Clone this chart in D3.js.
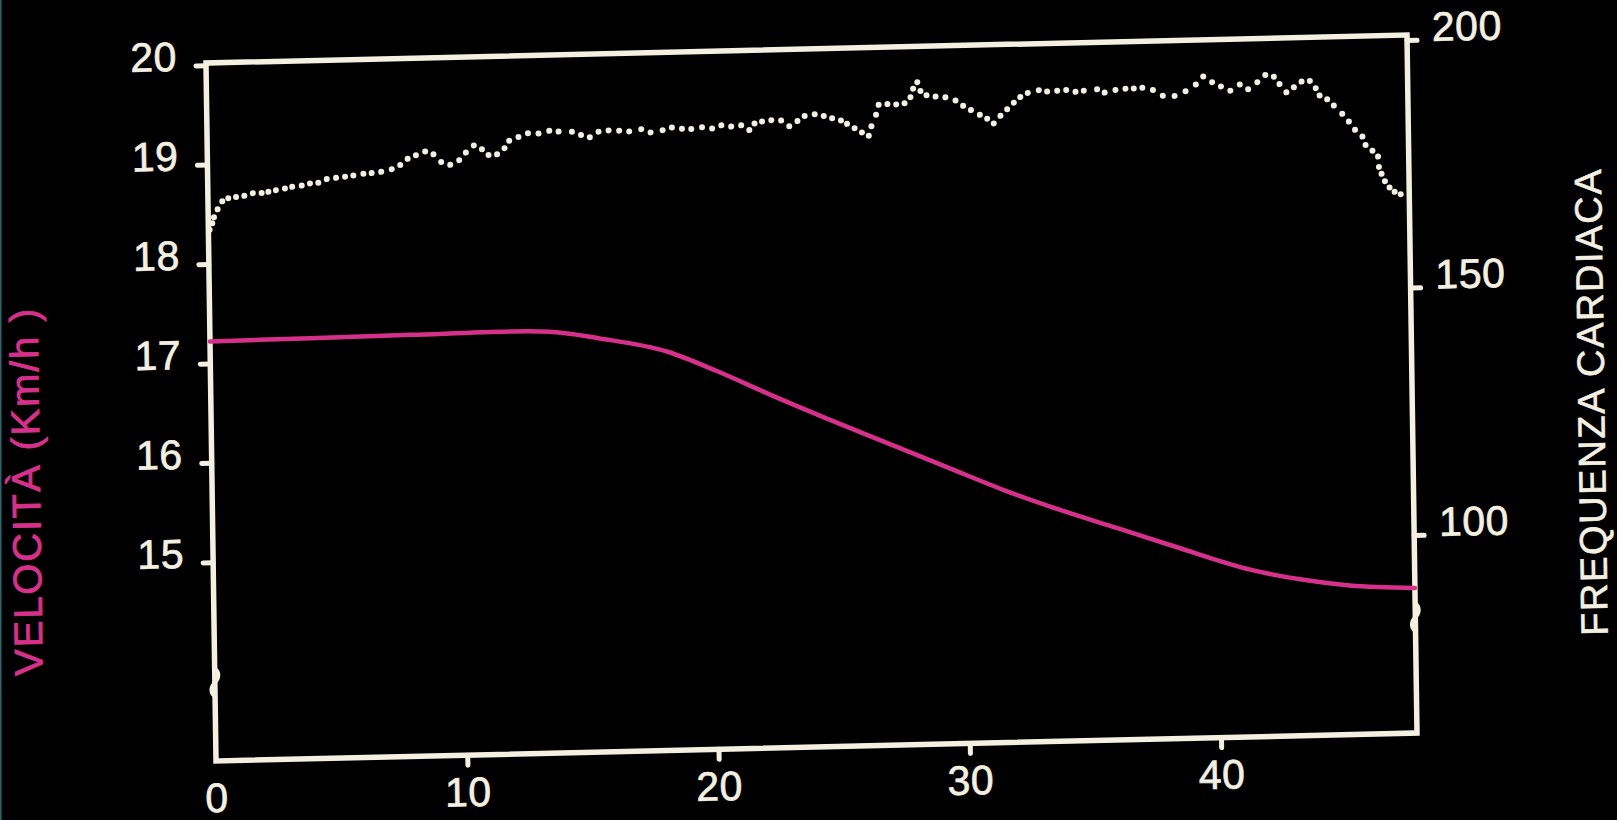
<!DOCTYPE html>
<html>
<head>
<meta charset="utf-8">
<script src="https://cdn.jsdelivr.net/npm/d3@7"></script>
<style>
  html, body { margin: 0; padding: 0; background: #000; }
  svg { display: block; }
</style>
</head>
<body>
<svg id="chart" width="1617" height="820"></svg>
<script>
// Axis tick values
const minuteTicks = [0, 10, 20, 30, 40];
const speedTicks = [15, 16, 17, 18, 19, 20];
const heartTicks = [100, 150, 200];

// Running speed over time: [minute, km/h]
const speed = [
  [0, 17.22], [4, 17.23], [8, 17.24], [12, 17.25], [13.5, 17.24],
  [15.5, 17.16], [18.2, 17.01], [20.1, 16.81], [22.3, 16.55], [24.6, 16.29],
  [26.9, 16.04], [29.2, 15.79], [31.5, 15.54], [33.7, 15.33], [36.0, 15.13],
  [38.3, 14.93], [41.3, 14.68], [43.3, 14.57], [45.2, 14.50], [47.8, 14.46]
];

// Heart rate samples: [minute, beats per minute]
const heartRate = [
  [0.05, 167.3], [0.16, 168.6], [0.23, 169.8], [0.38, 171.4], [0.57, 173.0], [0.81, 173.6],
  [1.12, 173.8], [1.45, 174.0], [1.79, 174.5], [2.14, 174.5], [2.41, 174.7], [2.71, 175.0],
  [3.07, 175.3], [3.36, 175.6], [3.74, 175.8], [4.07, 176.2], [4.40, 176.3], [4.74, 177.0],
  [5.11, 177.2], [5.47, 177.4], [5.80, 177.6], [6.20, 177.9], [6.53, 178.0], [6.91, 178.2],
  [7.33, 178.7], [7.67, 179.5], [7.97, 180.7], [8.30, 181.4], [8.67, 182.1], [9.00, 181.5],
  [9.30, 179.9], [9.66, 179.3], [10.02, 180.2], [10.29, 181.7], [10.61, 183.1], [10.93, 182.3],
  [11.19, 181.1], [11.53, 181.2], [11.83, 182.4], [12.02, 183.9], [12.39, 184.6], [12.77, 185.3],
  [13.19, 185.2], [13.62, 185.7], [13.99, 185.5], [14.52, 185.4], [14.88, 184.7], [15.23, 184.2],
  [15.58, 185.3], [15.98, 185.5], [16.40, 185.4], [16.80, 185.2], [17.28, 185.6], [17.65, 184.9],
  [18.13, 185.3], [18.50, 185.8], [18.90, 185.5], [19.27, 185.4], [19.70, 185.7], [20.10, 185.4],
  [20.47, 186.0], [20.86, 185.7], [21.26, 185.9], [21.58, 184.9], [21.79, 186.2], [22.09, 186.6],
  [22.46, 186.8], [22.85, 186.7], [23.17, 185.5], [23.50, 186.5], [23.79, 187.5], [24.19, 187.8],
  [24.55, 187.4], [24.88, 186.9], [25.23, 186.4], [25.47, 185.7], [25.77, 184.8], [26.06, 183.9],
  [26.33, 183.2], [26.44, 185.1], [26.63, 187.4], [26.74, 189.4], [27.09, 189.5], [27.44, 189.4],
  [27.77, 189.6], [28.01, 190.8], [28.12, 192.5], [28.29, 193.8], [28.41, 192.0], [28.65, 191.1],
  [29.01, 190.8], [29.40, 190.6], [29.80, 189.9], [30.10, 188.8], [30.41, 187.9], [30.76, 186.9],
  [31.05, 186.1], [31.31, 185.1], [31.58, 186.6], [31.85, 187.9], [32.12, 189.2], [32.38, 190.3],
  [32.68, 191.1], [33.12, 191.6], [33.45, 191.3], [33.85, 191.4], [34.21, 191.5], [34.58, 191.1],
  [34.91, 191.3], [35.44, 191.5], [35.74, 190.8], [36.17, 191.3], [36.57, 191.5], [36.90, 191.5],
  [37.24, 191.6], [37.66, 191.1], [38.05, 189.9], [38.52, 189.8], [38.96, 190.7], [39.37, 192.0],
  [39.67, 193.6], [40.02, 192.4], [40.37, 191.5], [40.74, 190.6], [41.12, 191.8], [41.45, 190.8],
  [41.82, 192.2], [42.14, 193.6], [42.48, 193.2], [42.70, 191.7], [42.97, 190.0], [43.27, 191.0],
  [43.58, 192.1], [43.91, 192.2], [44.14, 190.7], [44.29, 189.2], [44.59, 188.4], [44.85, 187.1],
  [45.18, 185.4], [45.44, 183.8], [45.68, 182.1], [45.97, 180.7], [46.09, 179.0], [46.36, 177.8],
  [46.58, 176.6], [46.61, 174.5], [46.71, 173.1], [46.84, 171.6], [47.02, 170.3], [47.22, 169.4],
  [47.46, 168.9]
];

const CREAM = "#f3f0e2";
const PINK = "#d6318a";
const FONT = "'Liberation Sans', Arial, Helvetica, sans-serif";

const W = 1201, H = 698;

const svg = d3.select("#chart");
svg.append("rect").attr("width", 1617).attr("height", 820).attr("fill", "#000");
// thin edge of the slide mount
svg.append("rect").attr("x", 0).attr("y", 0).attr("width", 1.5).attr("height", 820)
  .attr("fill", "#3b7f89").attr("opacity", 0.8);

// The slide sits slightly tilted; the whole drawing is placed with one affine frame.
const g = svg.append("g")
  .attr("transform", "matrix(1,-0.0233,0.01435,1,205.98,63)");

const x = d3.scaleLinear().domain([0, 47.8]).range([0, W]);
const ySpeed = d3.scaleLinear().domain([13, 20]).range([H, H - 695.8]);
const yHeart = d3.scaleLinear().domain([60, 200]).range([H, H - 693]);

function styleAxis(sel) {
  sel.select(".domain").remove();
  sel.selectAll(".tick line")
    .attr("stroke", CREAM).attr("stroke-width", 5).attr("stroke-linecap", "round");
  sel.selectAll(".tick text")
    .attr("fill", CREAM)
    .attr("stroke", CREAM).attr("stroke-width", 0.7)
    .style("font-family", FONT)
    .style("font-size", "41px")
    .style("letter-spacing", "0.5px");
}

// left axis: speed
const left = g.append("g")
  .call(d3.axisLeft(ySpeed).tickValues(speedTicks).tickSize(10).tickPadding(19).tickFormat(d3.format("d")));
styleAxis(left);
left.selectAll(".tick text").attr("y", -8.5);

// right axis: heart rate
const right = g.append("g").attr("transform", `translate(${W},0)`)
  .call(d3.axisRight(yHeart).tickValues(heartTicks).tickSize(10).tickPadding(15).tickFormat(d3.format("d")));
styleAxis(right);
right.selectAll(".tick text").attr("y", -12);

// bottom axis: minutes
const bottom = g.append("g").attr("transform", `translate(0,${H})`)
  .call(d3.axisBottom(x).tickValues(minuteTicks).tickSize(10).tickPadding(12).tickFormat(d3.format("d")));
styleAxis(bottom);
bottom.selectAll(".tick").filter(d => d === 0).select("line").remove();

// frame
g.append("rect")
  .attr("x", 0).attr("y", 0).attr("width", W).attr("height", H)
  .attr("fill", "none").attr("stroke", CREAM).attr("stroke-width", 5.5);

// axis break marks
const breakMark = "M0,-14 C5,-11 5,-4 0,0 C-5,4 -5,11 0,14";
[[0, ySpeed(13.79)], [W, yHeart(83.4)]].forEach(([bx, by]) => {
  g.append("path")
    .attr("transform", `translate(${bx},${by})`)
    .attr("d", breakMark)
    .attr("fill", "none").attr("stroke", CREAM).attr("stroke-width", 3.5).attr("stroke-linecap", "round");
});

// speed curve
g.append("path")
  .datum(speed)
  .attr("d", d3.line().x(d => x(d[0])).y(d => ySpeed(d[1])).curve(d3.curveMonotoneX))
  .attr("fill", "none").attr("stroke", PINK).attr("stroke-width", 4.5).attr("stroke-linecap", "round");

// heart rate dots
g.append("g").selectAll("circle")
  .data(heartRate)
  .join("circle")
  .attr("cx", d => x(d[0]))
  .attr("cy", d => yHeart(d[1]))
  .attr("r", 3)
  .attr("fill", CREAM);

// axis titles
g.append("text")
  .attr("transform", "translate(-172,424) rotate(-90)")
  .attr("text-anchor", "middle")
  .attr("fill", PINK).attr("stroke", PINK).attr("stroke-width", 0.8)
  .style("font-family", FONT).style("font-size", "40px").style("letter-spacing", "1.8px")
  .text("VELOCITÀ  (Km/h )");

g.append("text")
  .attr("transform", "translate(1393,371) rotate(-90)")
  .attr("text-anchor", "middle")
  .attr("fill", CREAM).attr("stroke", CREAM).attr("stroke-width", 0.6)
  .style("font-family", FONT).style("font-size", "38px").style("letter-spacing", "1.6px")
  .text("FREQUENZA  CARDIACA");
</script>
</body>
</html>
